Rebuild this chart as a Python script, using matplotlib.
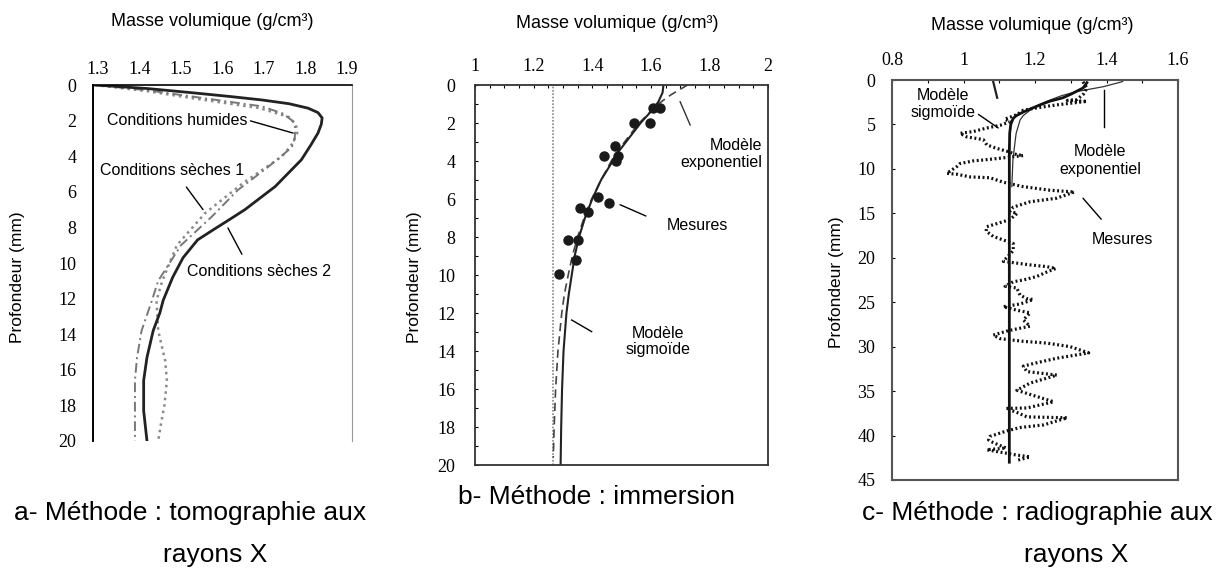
import matplotlib.pyplot as plt
from matplotlib.ticker import MultipleLocator

plt.rcParams['font.family'] = ['Liberation Sans', 'DejaVu Sans']

# --- a : tomographie X, profils de masse volumique ---
prof_seches2 = [0, 0.2, 0.45, 0.65, 0.84, 1.05, 1.3, 1.55, 1.85, 2.2, 2.7, 3.4, 4.2, 5.7,
                7.0, 7.6, 8.1, 8.7, 9.7, 10.8, 12.1, 12.8, 13.8, 15.3, 16.6, 18.3, 20]
rho_seches2 = [1.293, 1.42, 1.534, 1.62, 1.695, 1.76, 1.806, 1.83, 1.84, 1.838, 1.83,
               1.812, 1.79, 1.727, 1.654, 1.614, 1.58, 1.54, 1.505, 1.48, 1.457, 1.449,
               1.433, 1.418, 1.41, 1.41, 1.418]
prof_humides = [0, 0.3, 0.67, 1.2, 1.6, 2.0, 2.4, 3.0, 3.5, 4.6, 5.9, 7.4, 9.0, 11.0,
                12.1, 13.8, 15.3, 16.6, 18.0, 20]
rho_humides = [1.293, 1.42, 1.534, 1.695, 1.745, 1.768, 1.775, 1.774, 1.767, 1.71, 1.637,
               1.574, 1.50, 1.445, 1.43, 1.405, 1.394, 1.389, 1.389, 1.389]
prof_seches1 = [0, 0.35, 0.75, 1.3, 1.8, 2.2, 2.7, 3.3, 4.0, 5.5, 7.2, 9.0, 11.0, 12.1,
                13.8, 14.5, 15.5, 16.6, 18.0, 19.0, 20]
rho_seches1 = [1.293, 1.42, 1.53, 1.69, 1.76, 1.777, 1.78, 1.768, 1.744, 1.65, 1.558,
               1.49, 1.455, 1.441, 1.445, 1.452, 1.462, 1.466, 1.46, 1.452, 1.445]

# --- b : immersion ---
mes_rho_b = [1.609, 1.631, 1.544, 1.597, 1.478, 1.440, 1.489, 1.481, 1.42, 1.456,
             1.358, 1.385, 1.316, 1.35, 1.344, 1.287]
mes_prof_b = [1.23, 1.23, 1.98, 1.98, 3.21, 3.74, 3.74, 3.98, 5.88, 6.19,
              6.49, 6.7, 8.16, 8.16, 9.21, 9.96]
prof_sig_b = [0, 0.4, 0.9, 1.4, 2, 2.5, 3, 3.5, 4, 5, 6, 7, 8, 9, 10, 11, 12, 14, 16, 18, 20]
rho_sig_b = [1.643, 1.64, 1.625, 1.60, 1.565, 1.54, 1.515, 1.49, 1.47, 1.43, 1.40, 1.375,
             1.355, 1.34, 1.33, 1.32, 1.312, 1.302, 1.297, 1.294, 1.292]
prof_exp_b = [0, 0.5, 1, 2, 3, 4, 5, 6, 7, 8, 9, 10, 11, 12, 14, 16, 18, 19.6]
rho_exp_b = [1.725, 1.67, 1.625, 1.56, 1.51, 1.465, 1.43, 1.398, 1.372, 1.35, 1.332,
             1.318, 1.305, 1.296, 1.283, 1.275, 1.27, 1.267]
rho_asymptote_b = 1.265

# --- c : radiographie X ---
prof_mes_c = [0.2, 0.9, 1.6, 2.2, 2.3, 2.4, 2.8, 3.1, 3.4, 3.9, 4.4, 4.7, 5.1, 5.4, 5.8,
              6.0, 6.4, 6.7, 7.3, 7.7, 8.0, 8.4, 8.5, 8.8, 9.0, 9.1, 9.4, 9.75, 10.5,
              10.6, 10.9, 11.0, 11.5, 12.0, 12.4, 12.6, 13.3, 13.7, 14.3, 14.8, 15.0,
              15.7, 16.5, 17.0, 17.6, 18.0, 18.4, 19.2, 20.4, 20.8, 21.0, 21.2, 21.6,
              22.1, 22.5, 22.7, 23.2, 23.4, 24.2, 24.6, 24.7, 25.2, 25.5, 25.9, 26.2,
              27.0, 27.7, 28.0, 28.2, 28.7, 29.1, 29.4, 29.6, 30.0, 30.7, 31.3, 31.9,
              32.2, 32.8, 33.2, 34.1, 34.9, 35.3, 36.2, 36.9, 36.95, 37.4, 37.9, 38.0,
              38.8, 39.1, 39.5, 40.1, 40.5, 40.8, 41.4, 41.6, 42.2, 42.4, 42.8]
rho_mes_c = [1.334, 1.345, 1.335, 1.317, 1.29, 1.345, 1.26, 1.21, 1.167, 1.149, 1.115,
             1.13, 1.102, 1.065, 1.027, 0.99, 1.009, 1.055, 1.065, 1.093, 1.12, 1.149,
             1.167, 1.102, 1.055, 1.027, 0.99, 0.981, 0.953, 0.981, 1.018, 1.074, 1.111,
             1.167, 1.242, 1.31, 1.26, 1.186, 1.139, 1.13, 1.15, 1.13, 1.065, 1.063,
             1.083, 1.111, 1.139, 1.139, 1.111, 1.186, 1.233, 1.258, 1.233, 1.205, 1.167,
             1.139, 1.116, 1.149, 1.158, 1.177, 1.195, 1.158, 1.111, 1.149, 1.186, 1.167,
             1.186, 1.149, 1.125, 1.083, 1.102, 1.167, 1.233, 1.298, 1.35, 1.261, 1.195,
             1.167, 1.177, 1.261, 1.186, 1.149, 1.18, 1.252, 1.177, 1.119, 1.149, 1.177,
             1.29, 1.224, 1.158, 1.119, 1.074, 1.07, 1.083, 1.119, 1.065, 1.149, 1.186,
             1.149]
prof_sig_c = [0.3, 0.9, 1.6, 2.0, 2.4, 2.8, 3.2, 3.6, 4.0, 4.3, 5.0, 6.0, 8.0, 43.0]
rho_sig_c = [1.345, 1.334, 1.30, 1.278, 1.24, 1.214, 1.19, 1.167, 1.148, 1.139, 1.132,
             1.129, 1.128, 1.128]
prof_exp_c = [0.0, 0.2, 0.75, 1.3, 1.75, 2.25, 2.8, 3.4, 4.0, 4.5, 6.0, 7.3, 9.0, 12.0]
rho_exp_c = [1.45, 1.443, 1.391, 1.317, 1.275, 1.242, 1.21, 1.186, 1.167, 1.158, 1.147,
             1.143, 1.138, 1.135]
prof_trait_c = [0.2, 2.0]
rho_trait_c = [1.083, 1.094]

titre = 'Masse volumique (g/cm³)'
label_y = 'Profondeur (mm)'
legendes = ['a- Méthode : tomographie aux', 'rayons X', 'b- Méthode : immersion',
            'c- Méthode : radiographie aux', 'rayons X']

serif = 'Liberation Serif'
tick_fs = 13
txt_fs = 11.5


def top_axis(ax, ticks, labels):
    ax.xaxis.set_ticks_position('top')
    ax.set_xticks(ticks)
    ax.set_xticklabels(labels)
    ax.tick_params(labelfontfamily=serif, labelsize=tick_fs)


fig = plt.figure(figsize=(12.24, 5.76), dpi=100)

# panel a
ax_a = fig.add_axes([0.076, 0.2344, 0.2116, 0.618])
ax_a.plot(rho_seches1, prof_seches1, color='#8a8a8a', lw=1.8, ls=(0, (1, 1.6)))
ax_a.plot(rho_humides, prof_humides, color='#777777', lw=1.4, ls=(0, (5, 2, 1, 2)))
ax_a.plot(rho_seches2, prof_seches2, color='#222222', lw=2.0)
ax_a.set_xlim(1.288, 1.912)
ax_a.set_ylim(20, 0)
ax_a.set_yticks(range(0, 21, 2))
top_axis(ax_a, [1.3, 1.4, 1.5, 1.6, 1.7, 1.8, 1.9],
         ['1.3', '1.4', '1.5', '1.6', '1.7', '1.8', '1.9'])
ax_a.tick_params(axis='y', length=0, pad=12)
ax_a.tick_params(axis='x', length=0, pad=5)
ax_a.spines['bottom'].set_visible(False)
ax_a.spines['right'].set_color('#999999')
ax_a.spines['left'].set_linewidth(1.4)
ax_a.spines['top'].set_linewidth(1.2)
ax_a.annotate('Conditions humides', xy=(1.77, 2.7), xytext=(1.322, 1.97),
              fontsize=txt_fs, va='center',
              arrowprops=dict(arrowstyle='-', color='k', lw=1,
                              shrinkA=0, shrinkB=0, relpos=(1, 0.5)))
ax_a.annotate('Conditions sèches 1', xy=(1.553, 7.0), xytext=(1.305, 4.78),
              fontsize=txt_fs, va='center',
              arrowprops=dict(arrowstyle='-', color='k', lw=1,
                              shrinkA=6, shrinkB=0, relpos=(0.55, 0)))
ax_a.annotate('Conditions sèches 2', xy=(1.613, 8.03), xytext=(1.514, 10.5),
              fontsize=txt_fs, va='center',
              arrowprops=dict(arrowstyle='-', color='k', lw=1,
                              shrinkA=6, shrinkB=0, relpos=(0.42, 1)))

# panel b
ax_b = fig.add_axes([0.3881, 0.1927, 0.2394, 0.6597])
ax_b.axvline(rho_asymptote_b, color='#888888', lw=1.2, ls=(0, (1, 1)))
ax_b.plot(rho_exp_b, prof_exp_b, color='#444444', lw=1.2, ls=(0, (5, 3)))
ax_b.plot(rho_sig_b, prof_sig_b, color='#222222', lw=1.5)
ax_b.plot(mes_rho_b, mes_prof_b, 'o', color='#1a1a1a', ms=6.5)
ax_b.set_xlim(1.0, 2.0)
ax_b.set_ylim(20, 0)
ax_b.set_yticks(range(0, 21, 2))
top_axis(ax_b, [1.0, 1.2, 1.4, 1.6, 1.8, 2.0], ['1', '1.2', '1.4', '1.6', '1.8', '2'])
ax_b.xaxis.set_minor_locator(MultipleLocator(0.05))
ax_b.yaxis.set_minor_locator(MultipleLocator(1))
ax_b.tick_params(which='both', direction='in', length=2, width=0.8,
                 top=True, bottom=False, left=True, right=False)
ax_b.tick_params(axis='y', pad=14)
ax_b.tick_params(axis='x', pad=7)
for s in ax_b.spines.values():
    s.set_linewidth(1.3)
    s.set_color('#333333')
ax_b.text(1.98, 3.63, 'Modèle\nexponentiel', fontsize=txt_fs, ha='right',
          va='center', linespacing=1.1)
ax_b.plot([1.70, 1.734], [0.88, 2.1], color='#333333', lw=1)
ax_b.annotate('Mesures', xy=(1.495, 6.3), xytext=(1.758, 7.37),
              fontsize=txt_fs, ha='center', va='center',
              arrowprops=dict(arrowstyle='-', color='k', lw=1,
                              shrinkA=14, shrinkB=0, relpos=(0, 0.5)))
ax_b.text(1.625, 13.5, 'Modèle\nsigmoïde', fontsize=txt_fs, ha='center',
          va='center', linespacing=1.1)
ax_b.plot([1.33, 1.398], [12.37, 12.98], color='k', lw=1)

# panel c
ax_c = fig.add_axes([0.7288, 0.1667, 0.2337, 0.6944])
ax_c.plot(rho_exp_c, prof_exp_c, color='#333333', lw=0.9)
ax_c.plot(rho_sig_c, prof_sig_c, color='#111111', lw=2.0)
ax_c.plot(rho_mes_c, prof_mes_c, color='#111111', lw=2.3, ls=(0, (0.6, 0.8)))
ax_c.plot(rho_trait_c, prof_trait_c, color='#222222', lw=1.6)
ax_c.set_xlim(0.8, 1.6)
ax_c.set_ylim(45, 0)
ax_c.set_yticks(range(0, 46, 5))
top_axis(ax_c, [0.8, 1.0, 1.2, 1.4, 1.6], ['0.8', '1', '1.2', '1.4', '1.6'])
ax_c.xaxis.set_minor_locator(MultipleLocator(0.1))
ax_c.tick_params(which='both', direction='in', length=2.5, width=0.8,
                 top=True, bottom=False, left=True, right=False)
ax_c.tick_params(axis='y', pad=12)
ax_c.tick_params(axis='x', pad=8)
for s in ax_c.spines.values():
    s.set_linewidth(1.5)
    s.set_color('#555555')
ax_c.annotate('Modèle\nsigmoïde', xy=(1.097, 5.4), xytext=(0.943, 2.7),
              fontsize=txt_fs, ha='center', va='center', linespacing=1.1,
              arrowprops=dict(arrowstyle='-', color='k', lw=1,
                              shrinkA=0, shrinkB=0, relpos=(0.95, 0.3)))
ax_c.text(1.382, 9.0, 'Modèle\nexponentiel', fontsize=txt_fs, ha='center',
          va='center', linespacing=1.25)
ax_c.plot([1.393, 1.393], [1.1, 5.3], color='k', lw=1)
ax_c.annotate('Mesures', xy=(1.334, 13.3), xytext=(1.443, 18.0),
              fontsize=txt_fs, ha='center', va='center',
              arrowprops=dict(arrowstyle='-', color='k', lw=1,
                              shrinkA=10, shrinkB=0, relpos=(0.35, 1)))

# titres, axes verticaux et légendes
for xt, yt in [(212, 22), (617, 23), (1032, 25)]:
    fig.text(xt / 1224, 1 - yt / 576, titre, fontsize=13, ha='center', va='center')
for xl, yl in [(18, 277), (415, 277), (836, 282)]:
    fig.text(xl / 1224, 1 - yl / 576, label_y, fontsize=12.5, rotation=90,
             ha='center', va='center')

cap_pos = [(190, 513), (215, 555), (597, 497), (1037, 513), (1076, 555)]
for txt, (xc, yc) in zip(legendes, cap_pos):
    fig.text(xc / 1224, 1 - yc / 576, txt, fontsize=19, ha='center', va='center')

fig.savefig('out.png', dpi=100)
